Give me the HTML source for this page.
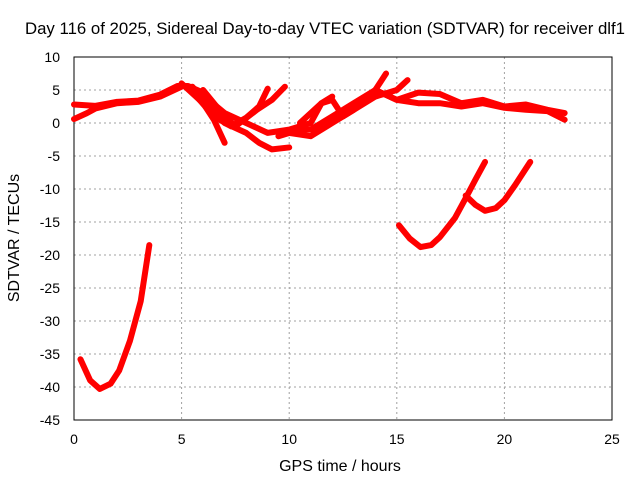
<!DOCTYPE html>
<html><head><meta charset="utf-8"><style>
body{margin:0;background:#fff;}
svg{display:block;font-family:"Liberation Sans",sans-serif;}
</style></head><body>
<svg id="chart" width="640" height="480"></svg>
<script>
const xTicks=[0,5,10,15,20,25];
const yTicks=[10,5,0,-5,-10,-15,-20,-25,-30,-35,-40,-45];
const trackMainBand=[[0,2.8],[1,2.6],[2,3.2],[3,3.4],[4,4.3],[4.8,5.6],[5.3,5.6],[6,4.6]];
const trackLowBand=[[0,0.6],[0.6,1.5],[1,2.2],[2,3],[3,3.2],[4,4],[5,5.5]];
const track1=[[5,6],[6,3],[6.5,0.5],[7,-3]];
const track2=[[5.3,5.5],[6.5,1],[7.3,-0.5],[8,0.8],[8.6,2.5],[9,5.2]];
const track3=[[5.5,5.5],[6.3,2.5],[7,0],[8,-1.5],[8.6,-3],[9.2,-4],[10,-3.7]];
const track4=[[5.7,5],[7,1.5],[8,0],[9,-1.5],[10,-1],[11,0],[11.5,3],[12,4]];
const track5=[[6,5],[7,1],[7.5,-0.5],[8.5,2],[9.2,3.5],[9.8,5.5]];
const track6=[[9.5,-2],[10.5,-1],[11,-1],[12,1],[13,3],[14,5],[14.5,7.5]];
const track7=[[10,-1.5],[11,-2],[12,0],[13,2],[14,4],[15,5],[15.5,6.5]];
const track8=[[10.5,0],[11.5,3],[12,3.5],[12.5,1],[13,2],[14,5],[15,3.5],[16,4.6],[17,4.4],[18,3],[19,3.5],[20,2.5],[21,2.8],[22,2],[22.8,1.5]];
const track9=[[14,5],[15,3.5],[16,3],[17,3],[18,2.5],[19,3],[20,2.3],[21,2],[22,1.8],[22.8,0.5]];
const trackL1=[[0.3,-35.8],[0.75,-39],[1.2,-40.3],[1.7,-39.5],[2.1,-37.5],[2.6,-33],[3.1,-27],[3.5,-18.5]];
const trackL2=[[15.1,-15.5],[15.6,-17.5],[16.1,-18.8],[16.6,-18.5],[17,-17.3],[17.7,-14.4],[18.2,-11.4],[18.65,-8.6],[19.1,-5.9]];
const trackL3=[[18.2,-11],[18.65,-12.4],[19.1,-13.3],[19.6,-12.9],[20,-11.7],[20.5,-9.4],[21.2,-5.9]];
const tracks=[trackMainBand,trackLowBand,track1,track2,track3,track4,track5,track6,track7,track8,track9,trackL1,trackL2,trackL3];

const L=74,R=612,T=57,B=420,xmin=0,xmax=25,ymin=-45,ymax=10;
const sx=v=>L+(v-xmin)/(xmax-xmin)*(R-L);
const sy=v=>B-(v-ymin)/(ymax-ymin)*(B-T);
const svg=document.getElementById('chart');
const NS='http://www.w3.org/2000/svg';
function mk(tag,attrs,parent){const e=document.createElementNS(NS,tag);for(const k in attrs)e.setAttribute(k,attrs[k]);(parent||svg).appendChild(e);return e;}

xTicks.forEach(t=>{
  const g=mk('line',{x1:sx(t),x2:sx(t),y1:T,y2:B,stroke:'#a0a0a0','stroke-dasharray':'2,3'});
  
  
  const tx=mk('text',{x:sx(t),y:B+24,'text-anchor':'middle','font-size':14,fill:'#000'});
  tx.textContent=t;
  
  
});
yTicks.forEach(t=>{
  const g=mk('line',{x1:L,x2:R,y1:sy(t),y2:sy(t),stroke:'#a0a0a0','stroke-dasharray':'2,3'});
  
  
  const tx=mk('text',{x:L-14,y:sy(t)+5,'text-anchor':'end','font-size':14,fill:'#000'});
  tx.textContent=t;
  
  
});
const frame=mk('rect',{x:L,y:T,width:R-L,height:B-T,fill:'none',stroke:'#000','stroke-width':1});



tracks.forEach(tr=>{
  const p=mk('polyline',{points:tr.map(d=>sx(d[0])+','+sy(d[1])).join(' '),fill:'none',stroke:'#ff0000','stroke-width':6,'stroke-linejoin':'round','stroke-linecap':'round'});
  
  
});

const title=mk('text',{x:325,y:34,'text-anchor':'middle','font-size':16.8,fill:'#000'});
title.textContent='Day 116 of 2025, Sidereal Day-to-day VTEC variation (SDTVAR) for receiver dlf1';


const xl=mk('text',{x:340,y:471,'text-anchor':'middle','font-size':16,fill:'#000'});
xl.textContent='GPS time / hours';


const yl=mk('text',{x:0,y:0,'text-anchor':'middle','font-size':16,fill:'#000',transform:'translate(19,238) rotate(-90)'});
yl.textContent='SDTVAR / TECUs';


</script>
</body></html>
